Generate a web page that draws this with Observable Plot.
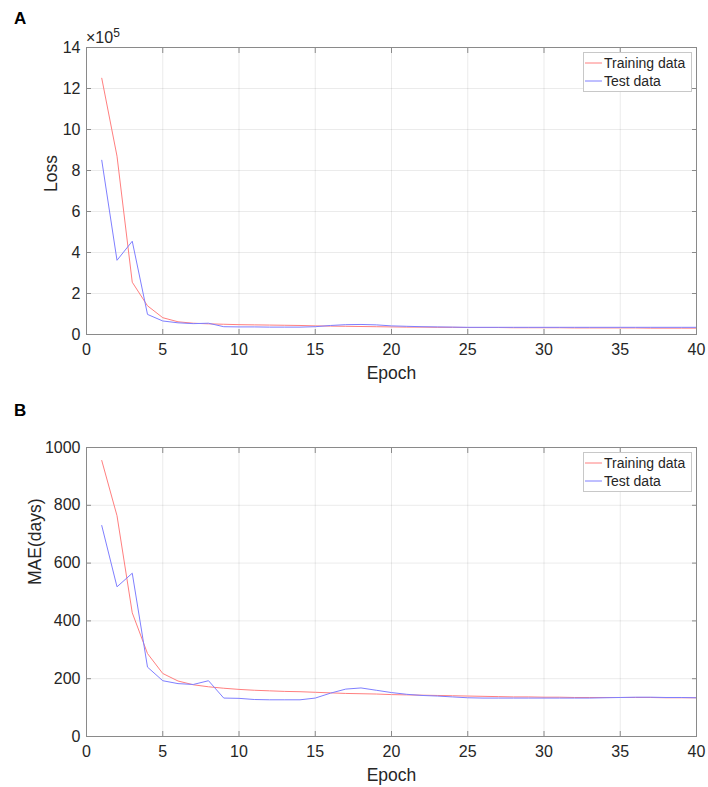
<!DOCTYPE html>
<html>
<head>
<meta charset="utf-8">
<script src="https://cdn.jsdelivr.net/npm/d3@7"></script>
<script src="https://cdn.jsdelivr.net/npm/@observablehq/plot@0.6"></script>
<style>
  body { margin: 0; background: #fff; }
  #fig { position: relative; width: 708px; height: 787px; font-family: "Liberation Sans", Arial, sans-serif; color: #262626; }
  .panel { position: relative; width: 708px; }
  .panel svg { display: block; }
  .tag { position: absolute; font-weight: bold; font-size: 17px; color: #000; }
  .legend { position: absolute; border: 1px solid #c8c8c8; background: #fff; font-size: 14px; line-height: 18px; padding: 1px 6px 1px 1px; }
  .legend div { display: flex; align-items: center; white-space: nowrap; }
  .legend svg { margin-right: 2px; }
  .exp { position: absolute; font-size: 16px; }
</style>
</head>
<body>
<div id="fig">
  <div class="panel" id="panelA"></div>
  <div class="panel" id="panelB"></div>
</div>
<script>
// ---- data ----
const epochs = d3.range(1, 41);
const trainLoss = [12.5, 8.7, 2.55, 1.4, 0.82, 0.62, 0.55, 0.52, 0.5, 0.48,
  0.47, 0.46, 0.45, 0.44, 0.42, 0.41, 0.4, 0.39, 0.38, 0.37,
  0.36, 0.36, 0.35, 0.35, 0.34, 0.34, 0.34, 0.33, 0.33, 0.33,
  0.33, 0.32, 0.32, 0.32, 0.32, 0.32, 0.31, 0.31, 0.31, 0.31];
const testLoss = [8.5, 3.62, 4.55, 0.98, 0.66, 0.57, 0.53, 0.55, 0.38, 0.37,
  0.37, 0.36, 0.36, 0.36, 0.38, 0.44, 0.48, 0.49, 0.47, 0.42,
  0.4, 0.38, 0.37, 0.36, 0.35, 0.35, 0.35, 0.35, 0.35, 0.35,
  0.35, 0.35, 0.35, 0.35, 0.35, 0.35, 0.35, 0.35, 0.35, 0.35];
const trainMAE = [955, 764, 428, 287, 218, 192, 179, 172, 167, 163,
  160, 158, 156, 155, 153, 151, 149, 148, 147, 145,
  144, 143, 142, 141, 140, 139, 138, 137, 137, 136,
  136, 135, 135, 135, 135, 135, 135, 134, 134, 134];
const testMAE = [730, 518, 565, 240, 193, 183, 180, 193, 133, 132,
  128, 127, 127, 127, 133, 150, 164, 168, 160, 152,
  146, 142, 140, 137, 134, 133, 133, 133, 133, 133,
  133, 133, 133, 134, 135, 136, 136, 135, 135, 134];
const xTicks = [0, 5, 10, 15, 20, 25, 30, 35, 40];
const lossTicks = [0, 2, 4, 6, 8, 10, 12, 14];
const maeTicks = [0, 200, 400, 600, 800, 1000];
const seriesNames = ["Training data", "Test data"];
const seriesColors = ["#ff7f7f", "#7f7fff"];

function makeChart({train, test, yDomain, yTicks, yLabel, yLabelDx, yLabelDy, height, marginTop, marginBottom}) {
  const rows = [];
  epochs.forEach((e, i) => {
    rows.push({epoch: e, value: train[i], series: seriesNames[0]});
    rows.push({epoch: e, value: test[i], series: seriesNames[1]});
  });
  return Plot.plot({
    width: 708,
    height,
    marginLeft: 86,
    marginRight: 12,
    marginTop,
    marginBottom,
    style: {fontFamily: "'Liberation Sans', Arial, sans-serif", fontSize: "16px", color: "#262626", background: "#fff"},
    x: {domain: [0, 40]},
    y: {domain: yDomain},
    color: {domain: seriesNames, range: seriesColors},
    marks: [
      Plot.gridX(xTicks, {stroke: "#000", strokeOpacity: 0.08}),
      Plot.gridY(yTicks, {stroke: "#000", strokeOpacity: 0.08}),
      Plot.axisX(xTicks, {anchor: "bottom", tickSize: 0, tickPadding: 9, label: null, fontSize: 16, tickFormat: d => String(d)}),
      Plot.axisX(xTicks, {anchor: "bottom", tickSize: -5, text: null, label: null, stroke: "#8a8a8a"}),
      Plot.axisX(xTicks, {anchor: "top", tickSize: -5, text: null, label: null, stroke: "#8a8a8a"}),
      Plot.axisY(yTicks, {anchor: "left", tickSize: 0, tickPadding: 6, label: null, fontSize: 16, tickFormat: d => String(d)}),
      Plot.axisY(yTicks, {anchor: "left", tickSize: -5, text: null, label: null, stroke: "#8a8a8a"}),
      Plot.axisY(yTicks, {anchor: "right", tickSize: -5, text: null, label: null, stroke: "#8a8a8a"}),
      Plot.text(["Epoch"], {frameAnchor: "bottom", dy: 38.5, lineAnchor: "middle", fontSize: 17.5, fill: "#262626"}),
      Plot.text([yLabel], {frameAnchor: "left", dx: yLabelDx, dy: yLabelDy, rotate: -90, lineAnchor: "middle", fontSize: 17.5, fill: "#262626"}),
      Plot.line(rows, {x: "epoch", y: "value", z: "series", stroke: "series", strokeWidth: 1}),
      Plot.frame({stroke: "#8a8a8a"})
    ]
  });
}

function legendBox(top) {
  const el = document.createElement("div");
  el.className = "legend";
  el.style.left = "583px";
  el.style.top = top + "px";
  seriesNames.forEach((name, i) => {
    const row = document.createElement("div");
    row.innerHTML = `<svg width="17" height="10"><line x1="0" y1="5" x2="17" y2="5" stroke="${seriesColors[i]}" stroke-width="1"/></svg><span>${name}</span>`;
    el.appendChild(row);
  });
  return el;
}

const pA = document.getElementById("panelA");
const chartA = makeChart({train: trainLoss, test: testLoss, yDomain: [0, 14], yTicks: lossTicks, yLabel: "Loss", yLabelDx: -35, yLabelDy: 1, height: 393, marginTop: 47, marginBottom: 59});
pA.appendChild(chartA);
const tagA = document.createElement("div"); tagA.className = "tag"; tagA.textContent = "A"; tagA.style.left = "14px"; tagA.style.top = "9px"; pA.appendChild(tagA);
const exp = document.createElement("div"); exp.className = "exp"; exp.innerHTML = "×10<sup style='font-size:12px'>5</sup>"; exp.style.left = "86px"; exp.style.top = "26px"; pA.appendChild(exp);
pA.appendChild(legendBox(52));

const pB = document.getElementById("panelB");
const chartB = makeChart({train: trainMAE, test: testMAE, yDomain: [0, 1000], yTicks: maeTicks, yLabel: "MAE(days)", yLabelDx: -51.5, yLabelDy: -7, height: 394, marginTop: 54, marginBottom: 51});
pB.appendChild(chartB);
const tagB = document.createElement("div"); tagB.className = "tag"; tagB.textContent = "B"; tagB.style.left = "14px"; tagB.style.top = "8px"; pB.appendChild(tagB);
pB.appendChild(legendBox(59));
</script>
</body>
</html>
